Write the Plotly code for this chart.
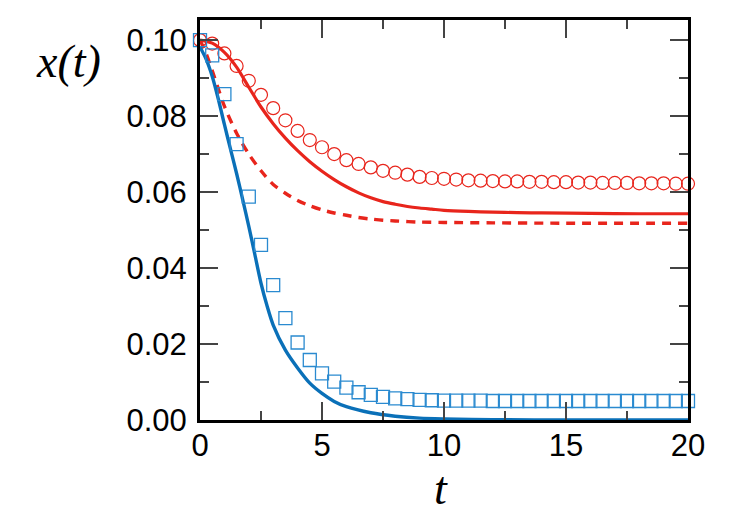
import plotly.graph_objects as go

# ---- data ----
t_markers = [i * 0.5 for i in range(41)]
circles = [0.1000, 0.0991, 0.0965, 0.0932, 0.0893, 0.0856, 0.0821, 0.0789, 0.0761, 0.0737,
           0.0718, 0.0700, 0.0684, 0.0674, 0.0665, 0.0656, 0.0651, 0.0646, 0.0640, 0.0637,
           0.0635, 0.0633, 0.0631, 0.0630, 0.0629, 0.0628, 0.0628, 0.0627, 0.0627, 0.0626,
           0.0626, 0.0625, 0.0625, 0.0624, 0.0624, 0.0624, 0.0623, 0.0623, 0.0623, 0.0622,
           0.0622]
squares = [0.1000, 0.0960, 0.0858, 0.0726, 0.0588, 0.0461, 0.0355, 0.0268, 0.0204, 0.0158,
           0.0123, 0.0101, 0.0085, 0.0073, 0.0066, 0.0061, 0.0057, 0.0055, 0.0053, 0.0052,
           0.0051, 0.0051, 0.0051, 0.0051, 0.0050, 0.0050, 0.0050, 0.0050, 0.0050, 0.0050,
           0.0050, 0.0050, 0.0050, 0.0050, 0.0050, 0.0050, 0.0050, 0.0050, 0.0050, 0.0050,
           0.0050]

t_red_solid = [0, 0.5, 1, 1.5, 2, 2.5, 3, 3.5, 4, 4.5, 5, 5.5, 6, 6.5, 7, 7.5, 8, 8.5, 9, 9.5,
               10, 11, 12, 13, 14, 16, 18, 20]
red_solid = [0.1000, 0.0992, 0.0968, 0.0929, 0.0876, 0.0824, 0.0780, 0.0742, 0.0709, 0.0680,
             0.0655, 0.0633, 0.0614, 0.0598, 0.0585, 0.0575, 0.0568, 0.0562, 0.0558, 0.0555,
             0.0552, 0.0549, 0.0547, 0.0546, 0.0545, 0.0544, 0.0543, 0.0543]

t_red_dash = [0, 0.25, 0.5, 0.75, 1, 1.5, 2, 2.5, 3, 3.5, 4, 4.5, 5, 5.5, 6, 6.5, 7, 7.5, 8,
              9, 10, 12, 15, 20]
red_dash = [0.1000, 0.0965, 0.0920, 0.0872, 0.0826, 0.0755, 0.0700, 0.0656, 0.0620, 0.0597,
            0.0578, 0.0564, 0.0553, 0.0545, 0.0539, 0.0533, 0.0529, 0.0526, 0.0524, 0.0521,
            0.0520, 0.0519, 0.0518, 0.0518]

t_blue = [0, 0.25, 0.5, 0.75, 1, 1.25, 1.5, 1.75, 2, 2.25, 2.5, 2.75, 3, 3.5, 4, 4.5, 5, 5.5,
          6, 7, 8, 9, 10, 12, 15, 20]
blue = [0.0982, 0.0950, 0.0905, 0.0845, 0.0778, 0.0713, 0.0649, 0.0580, 0.0510, 0.0435,
        0.0360, 0.0300, 0.0250, 0.0184, 0.0137, 0.0097, 0.0070, 0.0049, 0.0035, 0.0019,
        0.0010, 0.0005, 0.0003, 0.0001, 0.0, 0.0]

x_ticks = [0, 5, 10, 15, 20]
y_ticks = [0.00, 0.02, 0.04, 0.06, 0.08, 0.10]
y_tick_labels = ["0.00", "0.02", "0.04", "0.06", "0.08", "0.10"]

RED = "#e8251c"
BLUE = "#0a70b8"
SQ = "#2a8ad0"

fig = go.Figure()
fig.add_trace(go.Scatter(x=t_red_solid, y=red_solid, mode="lines",
                         line=dict(color=RED, width=3.2, shape="spline", smoothing=0.8)))
fig.add_trace(go.Scatter(x=t_red_dash, y=red_dash, mode="lines",
                         line=dict(color=RED, width=3.4, dash="9px,7px", shape="spline", smoothing=0.8)))
fig.add_trace(go.Scatter(x=t_blue, y=blue, mode="lines",
                         line=dict(color=BLUE, width=3.4, shape="spline", smoothing=0.8)))
fig.add_trace(go.Scatter(x=t_markers, y=circles, mode="markers", cliponaxis=False,
                         marker=dict(symbol="circle-open", size=13, color=RED, line=dict(width=1.2, color=RED))))
fig.add_trace(go.Scatter(x=t_markers, y=squares, mode="markers", cliponaxis=False,
                         marker=dict(symbol="square-open", size=13, color=SQ, line=dict(width=1.3, color=SQ))))

W, H = 750, 525
pl, pr, pt, pb = 200, 62, 20, 105
pw, ph = W - pl - pr, H - pt - pb


def px2paper(x, y):
    return (x - pl) / pw, (H - y - pb) / ph


tickfont = dict(family="Liberation Sans, Arial, sans-serif", size=31, color="black")
ax_x, ay_x = px2paper(68, 62)
bx_t, by_t = px2paper(441, 488)
fig.update_layout(
    width=W, height=H,
    margin=dict(l=pl, r=pr, t=pt, b=pb),
    paper_bgcolor="white", plot_bgcolor="white",
    showlegend=False,
    xaxis=dict(range=[0, 20], tickvals=x_ticks, ticks="inside", ticklen=18, tickwidth=1.5,
               tickcolor="#444", showline=True, linecolor="black", linewidth=3, mirror="ticks",
               showgrid=False, zeroline=False, tickfont=tickfont, ticklabelstandoff=-4,
               minor=dict(dtick=2.5, ticks="inside", ticklen=9, tickwidth=1.5, tickcolor="#444", showgrid=False)),
    yaxis=dict(range=[0, 0.1053], tickvals=y_ticks, ticktext=y_tick_labels, ticks="inside",
               ticklen=18, tickwidth=1.5, tickcolor="#444", showline=True, linecolor="black",
               linewidth=3, mirror="ticks", showgrid=False, zeroline=False, tickfont=tickfont,
               ticklabelstandoff=4,
               minor=dict(dtick=0.01, ticks="inside", ticklen=9, tickwidth=1.5, tickcolor="#444", showgrid=False)),
    annotations=[
        dict(text="<i>x(t)</i>", x=ax_x, y=ay_x, xref="paper", yref="paper", showarrow=False,
             xanchor="center", yanchor="middle",
             font=dict(family="Liberation Serif, Times New Roman, serif", size=46, color="black")),
        dict(text="<i>t</i>", x=bx_t, y=by_t, xref="paper", yref="paper", showarrow=False,
             xanchor="center", yanchor="middle",
             font=dict(family="Liberation Serif, Times New Roman, serif", size=46, color="black")),
    ],
)

fig.write_html("out.html")
